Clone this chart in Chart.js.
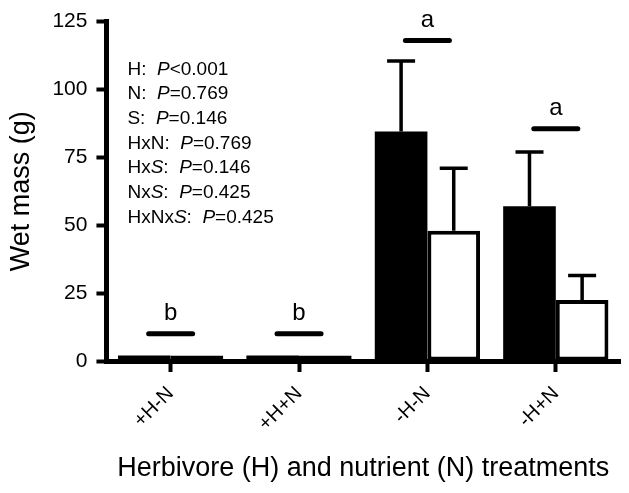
<!DOCTYPE html>
<html><head><meta charset="utf-8">
<script src="https://cdn.jsdelivr.net/npm/chart.js@4"></script>
<style>html,body{margin:0;padding:0;background:#fff}</style>
</head><body>
<canvas id="c" width="629" height="493"></canvas>
<script>
const categories = ['+H-N', '+H+N', '-H-N', '-H+N'];
const blackValues = [2, 2, 84.5, 57];
const whiteValues = [2, 2, 48, 22.5];
const blackErrors = [0, 0, 26, 20];
const whiteErrors = [0, 0, 23, 9];
const letters = ['b', 'b', 'a', 'a'];
const letterLineValues = [10, 10, 118, 85.5];
const yMin = 0, yMax = 125, yStep = 25;
const statTerms = ['H', 'N', 'S', 'HxN', 'HxS', 'NxS', 'HxNxS'];
const statOps = ['<', '=', '=', '=', '=', '=', '='];
const statValues = ['0.001', '0.769', '0.146', '0.769', '0.146', '0.425', '0.425'];
const yTitle = 'Wet mass (g)';
const xTitle = 'Herbivore (H) and nutrient (N) treatments';

const FONT = "'Liberation Sans', Arial, Helvetica, sans-serif";

const annot = {
  id: 'annot',
  afterDatasetsDraw(chart) {
    const ctx = chart.ctx;
    const y = chart.scales.y;
    const errs = [blackErrors, whiteErrors];
    const vals = [blackValues, whiteValues];
    ctx.save();
    ctx.strokeStyle = '#000';
    ctx.lineWidth = 3.5;
    ctx.lineCap = 'butt';
    for (let d = 0; d < 2; d++) {
      const meta = chart.getDatasetMeta(d);
      meta.data.forEach((bar, i) => {
        if (!errs[d][i]) return;
        const top = y.getPixelForValue(vals[d][i] + errs[d][i]);
        const base = y.getPixelForValue(vals[d][i]);
        ctx.beginPath();
        ctx.moveTo(bar.x, base);
        ctx.lineTo(bar.x, top);
        ctx.moveTo(bar.x - 14, top);
        ctx.lineTo(bar.x + 14, top);
        ctx.stroke();
      });
    }
    // significance letters
    const x = chart.scales.x;
    ctx.lineWidth = 5;
    ctx.lineCap = 'round';
    ctx.fillStyle = '#000';
    ctx.font = '24px ' + FONT;
    ctx.textAlign = 'center';
    ctx.textBaseline = 'alphabetic';
    letters.forEach((L, i) => {
      const cx = x.getPixelForValue(i);
      const ly = y.getPixelForValue(letterLineValues[i]);
      ctx.beginPath();
      ctx.moveTo(cx - 22, ly);
      ctx.lineTo(cx + 22, ly);
      ctx.stroke();
      ctx.fillText(L, cx, ly - 14);
    });
    // stats text
    const area = chart.chartArea;
    ctx.textAlign = 'left';
    const fs = 19;
    let by = area.top + 53;
    statTerms.forEach((t, i) => {
      let px = area.left + 21;
      const segs = [];
      if (t.includes('x')) {
        const k = t.lastIndexOf('S');
        if (k >= 0) { segs.push([t.slice(0, k), false]); segs.push(['S', true]); segs.push([t.slice(k + 1) + ':  ', false]); }
        else segs.push([t + ':  ', false]);
      } else segs.push([t + ':  ', false]);
      segs.push(['P', true]);
      segs.push([statOps[i] + statValues[i], false]);
      segs.forEach(([s, it]) => {
        ctx.font = (it ? 'italic ' : '') + fs + 'px ' + FONT;
        ctx.fillText(s, px, by);
        px += ctx.measureText(s).width;
      });
      by += 24.7;
    });
    ctx.restore();
  }
};

new Chart(document.getElementById('c'), {
  type: 'bar',
  data: {
    labels: categories,
    datasets: [
      { data: blackValues, backgroundColor: '#000', borderColor: '#000', borderWidth: 0, borderSkipped: false },
      { data: whiteValues, backgroundColor: '#fff', borderColor: '#000', borderWidth: 4, borderSkipped: false }
    ]
  },
  options: {
    responsive: false,
    animation: false,
    devicePixelRatio: 1,
    categoryPercentage: 0.82,
    barPercentage: 1,
    layout: { padding: { top: 10, right: 9, bottom: 6, left: 5 } },
    plugins: { legend: { display: false }, tooltip: { enabled: false } },
    scales: {
      x: {
        afterFit(scale) { scale.height = 126; },
        grid: { display: true, drawOnChartArea: false, offset: false, tickLength: 11, tickWidth: 4, tickColor: '#000' },
        border: { display: true, width: 5, color: '#000' },
        ticks: { color: '#000', maxRotation: 45, minRotation: 45, padding: 10, font: { size: 20, family: FONT } },
        title: { display: true, text: xTitle, color: '#000', font: { size: 27, family: FONT }, padding: { top: 0, bottom: 2 } }
      },
      y: {
        min: yMin, max: yMax,
        grid: { display: true, drawOnChartArea: false, tickLength: 10, tickWidth: 4, tickColor: '#000' },
        border: { display: true, width: 5, color: '#000' },
        ticks: { stepSize: yStep, color: '#000', padding: 9, font: { size: 21, family: FONT } },
        title: { display: true, text: yTitle, color: '#000', font: { size: 27, family: FONT }, padding: { top: 0, bottom: 6 } }
      }
    }
  },
  plugins: [annot]
});
</script>
</body></html>
